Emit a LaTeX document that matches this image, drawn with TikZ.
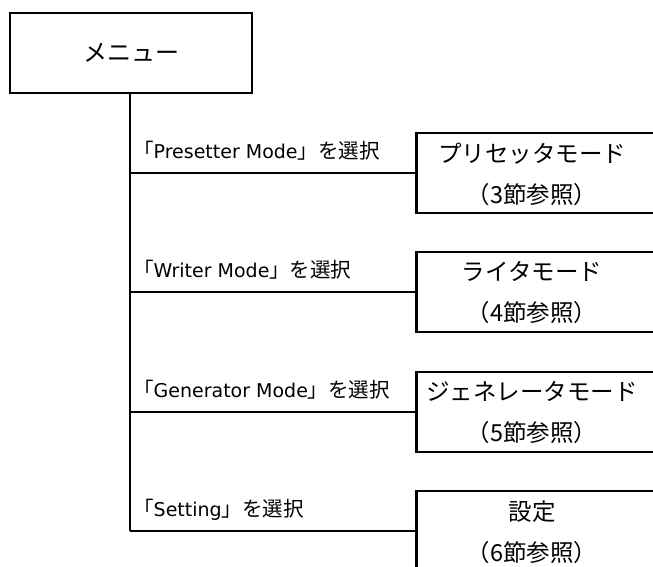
\documentclass[tikz,border=0pt]{standalone}
\usepackage{fontspec}
\setmainfont{Noto Sans CJK JP}
\newfontfamily\latfont{DejaVu Sans}
\newcommand{\latn}[1]{{\latfont\fontsize{19}{22}\selectfont #1}}
\begin{document}
\begin{tikzpicture}[x=1pt,y=-1pt,
  ln/.style={line width=2.7pt,black},
  mbox/.style={draw,line width=2.7pt,minimum width=242pt,minimum height=80pt,inner sep=0pt,font=\fontsize{24}{28}\selectfont},
  rbox/.style={draw,line width=2.7pt,minimum width=300pt,minimum height=80pt,inner sep=0pt,anchor=west},
  rtext/.style={align=center,inner sep=0pt,font=\fontsize{23.5}{41}\selectfont},
  lab/.style={anchor=base west,inner sep=0pt,font=\fontsize{20.5}{22}\selectfont}]
\useasboundingbox (0,0) rectangle (653,567);
\clip (0,0) rectangle (653,567);
\node[mbox] (menu) at (131,53) {メニュー};
\coordinate (t0) at (130,93);
\foreach \i/\y/\a/\b/\c in {1/173/{「\latn{Presetter Mode}」を選択}/プリセッタモード/（3節参照）,
                           2/292/{「\latn{Writer Mode}」を選択}/ライタモード/（4節参照）,
                           3/412/{「\latn{Generator Mode}」を選択}/ジェネレータモード/（5節参照）,
                           4/531/{「\latn{Setting}」を選択}/設定/（6節参照）}{
  \coordinate (j\i) at (130,\y);
  \node[rbox] (b\i) at (415,\y) {};
  \node[rtext] (bt\i) at (532,\y+1) {\b\\\c};
  \node[lab] (l\i) at (133,\y-15) {\a};
  \draw[ln] (j\i) -- (b\i.west);
}
\draw[ln] (menu.south -| t0) -- (j4);
\end{tikzpicture}
\end{document}
